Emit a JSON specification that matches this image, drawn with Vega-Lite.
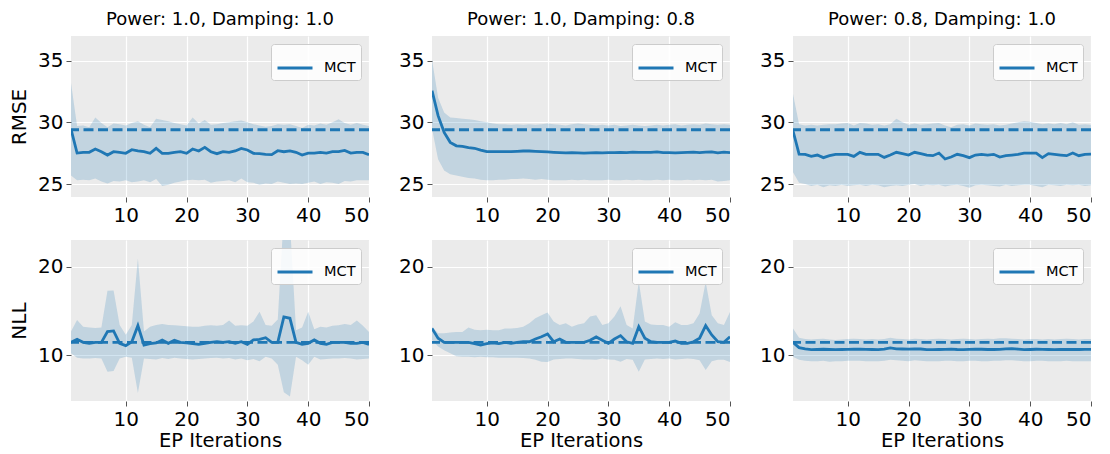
{
"$schema": "https://vega.github.io/schema/vega-lite/v6.json",
"padding": {"left": 9, "top": 11, "right": 5, "bottom": 2},
"background": "white",
"datasets": {
"base": [{"m":"RMSE","v":29.4},{"m":"NLL","v":11.43}],
"r1": [
{"i":1,"y":29.45,"hi":33.2,"lo":25.7},{"i":2,"y":27.51,"hi":29.7,"lo":25.3},{"i":3,"y":27.57,"hi":29.75,"lo":25.35},{"i":4,"y":27.57,"hi":29.6,"lo":25.3},{"i":5,"y":27.84,"hi":30.4,"lo":25.45},
{"i":6,"y":27.62,"hi":29.95,"lo":25.2},{"i":7,"y":27.35,"hi":29.6,"lo":25.05},{"i":8,"y":27.62,"hi":29.9,"lo":25.25},{"i":9,"y":27.57,"hi":29.85,"lo":25.2},{"i":10,"y":27.49,"hi":29.75,"lo":25.3},
{"i":11,"y":27.78,"hi":29.95,"lo":25.15},{"i":12,"y":27.68,"hi":30.1,"lo":25.2},{"i":13,"y":27.62,"hi":29.8,"lo":25.3},{"i":14,"y":27.49,"hi":29.6,"lo":25.15},{"i":15,"y":27.89,"hi":30.3,"lo":25.4},
{"i":16,"y":27.49,"hi":30.2,"lo":24.85},{"i":17,"y":27.49,"hi":30.1,"lo":24.95},{"i":18,"y":27.57,"hi":29.95,"lo":25.1},{"i":19,"y":27.62,"hi":29.85,"lo":25.2},{"i":20,"y":27.49,"hi":29.75,"lo":25.3},
{"i":21,"y":27.84,"hi":30.4,"lo":25.35},{"i":22,"y":27.68,"hi":29.9,"lo":25.3},{"i":23,"y":27.97,"hi":30.2,"lo":25.35},{"i":24,"y":27.62,"hi":29.8,"lo":25.1},{"i":25,"y":27.46,"hi":29.85,"lo":25.2},
{"i":26,"y":27.62,"hi":29.95,"lo":25.25},{"i":27,"y":27.57,"hi":30.0,"lo":25.3},{"i":28,"y":27.68,"hi":30.1,"lo":25.15},{"i":29,"y":27.89,"hi":30.15,"lo":25.45},{"i":30,"y":27.76,"hi":30.0,"lo":25.15},
{"i":31,"y":27.49,"hi":29.85,"lo":25.1},{"i":32,"y":27.46,"hi":29.75,"lo":24.95},{"i":33,"y":27.41,"hi":29.65,"lo":25.05},{"i":34,"y":27.38,"hi":29.7,"lo":25.0},{"i":35,"y":27.7,"hi":29.85,"lo":25.2},
{"i":36,"y":27.62,"hi":29.8,"lo":25.1},{"i":37,"y":27.68,"hi":29.85,"lo":25.0},{"i":38,"y":27.57,"hi":29.7,"lo":25.05},{"i":39,"y":27.35,"hi":29.55,"lo":25.0},{"i":40,"y":27.51,"hi":29.8,"lo":25.1},
{"i":41,"y":27.51,"hi":29.75,"lo":25.2},{"i":42,"y":27.57,"hi":29.9,"lo":25.0},{"i":43,"y":27.51,"hi":29.8,"lo":25.15},{"i":44,"y":27.62,"hi":30.0,"lo":25.1},{"i":45,"y":27.62,"hi":30.25,"lo":25.0},
{"i":46,"y":27.73,"hi":29.95,"lo":25.25},{"i":47,"y":27.51,"hi":29.8,"lo":25.2},{"i":48,"y":27.57,"hi":29.95,"lo":25.3},{"i":49,"y":27.57,"hi":29.8,"lo":25.3},{"i":50,"y":27.38,"hi":29.7,"lo":25.3}
],
"r2": [
{"i":1,"y":32.57,"hi":35.1,"lo":29.5},{"i":2,"y":30.54,"hi":32.0,"lo":27.0},{"i":3,"y":29.19,"hi":30.8,"lo":26.1},{"i":4,"y":28.38,"hi":30.4,"lo":25.8},{"i":5,"y":28.1,"hi":30.35,"lo":25.7},
{"i":6,"y":28.05,"hi":30.3,"lo":25.6},{"i":7,"y":27.95,"hi":30.25,"lo":25.5},{"i":8,"y":27.9,"hi":30.2,"lo":25.45},{"i":9,"y":27.75,"hi":30.1,"lo":25.35},{"i":10,"y":27.62,"hi":30.0,"lo":25.3},
{"i":11,"y":27.62,"hi":29.9,"lo":25.3},{"i":12,"y":27.62,"hi":29.85,"lo":25.35},{"i":13,"y":27.62,"hi":29.85,"lo":25.35},{"i":14,"y":27.62,"hi":29.8,"lo":25.4},{"i":15,"y":27.65,"hi":29.85,"lo":25.4},
{"i":16,"y":27.68,"hi":29.8,"lo":25.45},{"i":17,"y":27.68,"hi":29.85,"lo":25.4},{"i":18,"y":27.65,"hi":29.8,"lo":25.35},{"i":19,"y":27.62,"hi":29.85,"lo":25.4},{"i":20,"y":27.6,"hi":29.9,"lo":25.35},
{"i":21,"y":27.57,"hi":29.85,"lo":25.3},{"i":22,"y":27.54,"hi":29.8,"lo":25.3},{"i":23,"y":27.52,"hi":29.75,"lo":25.3},{"i":24,"y":27.55,"hi":29.85,"lo":25.35},{"i":25,"y":27.52,"hi":29.9,"lo":25.3},
{"i":26,"y":27.5,"hi":29.85,"lo":25.35},{"i":27,"y":27.52,"hi":29.8,"lo":25.3},{"i":28,"y":27.54,"hi":29.75,"lo":25.3},{"i":29,"y":27.52,"hi":29.8,"lo":25.3},{"i":30,"y":27.55,"hi":29.75,"lo":25.35},
{"i":31,"y":27.54,"hi":29.8,"lo":25.3},{"i":32,"y":27.56,"hi":29.7,"lo":25.3},{"i":33,"y":27.54,"hi":29.75,"lo":25.35},{"i":34,"y":27.58,"hi":29.8,"lo":25.3},{"i":35,"y":27.57,"hi":29.75,"lo":25.35},
{"i":36,"y":27.57,"hi":29.7,"lo":25.3},{"i":37,"y":27.56,"hi":29.75,"lo":25.3},{"i":38,"y":27.6,"hi":29.8,"lo":25.35},{"i":39,"y":27.54,"hi":29.75,"lo":25.3},{"i":40,"y":27.55,"hi":29.8,"lo":25.35},
{"i":41,"y":27.52,"hi":29.85,"lo":25.3},{"i":42,"y":27.55,"hi":29.75,"lo":25.3},{"i":43,"y":27.56,"hi":29.8,"lo":25.35},{"i":44,"y":27.58,"hi":29.85,"lo":25.3},{"i":45,"y":27.55,"hi":29.8,"lo":25.35},
{"i":46,"y":27.58,"hi":29.9,"lo":25.3},{"i":47,"y":27.6,"hi":29.85,"lo":25.35},{"i":48,"y":27.52,"hi":29.8,"lo":25.2},{"i":49,"y":27.58,"hi":29.85,"lo":25.25},{"i":50,"y":27.55,"hi":29.8,"lo":25.3}
],
"r3": [
{"i":1,"y":29.32,"hi":32.3,"lo":25.95},{"i":2,"y":27.43,"hi":29.85,"lo":25.1},{"i":3,"y":27.41,"hi":29.75,"lo":25.0},{"i":4,"y":27.24,"hi":29.8,"lo":24.85},{"i":5,"y":27.35,"hi":29.75,"lo":24.95},
{"i":6,"y":27.14,"hi":29.8,"lo":24.75},{"i":7,"y":27.3,"hi":29.85,"lo":24.9},{"i":8,"y":27.41,"hi":29.85,"lo":24.85},{"i":9,"y":27.41,"hi":29.9,"lo":24.95},{"i":10,"y":27.41,"hi":29.95,"lo":24.85},
{"i":11,"y":27.24,"hi":29.75,"lo":24.9},{"i":12,"y":27.57,"hi":29.95,"lo":24.95},{"i":13,"y":27.41,"hi":29.9,"lo":24.85},{"i":14,"y":27.41,"hi":29.8,"lo":24.95},{"i":15,"y":27.41,"hi":29.85,"lo":24.9},
{"i":16,"y":27.16,"hi":29.75,"lo":24.75},{"i":17,"y":27.35,"hi":29.85,"lo":24.85},{"i":18,"y":27.57,"hi":30.3,"lo":24.9},{"i":19,"y":27.46,"hi":30.0,"lo":24.85},{"i":20,"y":27.35,"hi":29.8,"lo":24.95},
{"i":21,"y":27.57,"hi":29.9,"lo":25.0},{"i":22,"y":27.46,"hi":29.8,"lo":24.85},{"i":23,"y":27.35,"hi":29.85,"lo":24.95},{"i":24,"y":27.3,"hi":29.9,"lo":24.9},{"i":25,"y":27.51,"hi":29.95,"lo":24.95},
{"i":26,"y":27.03,"hi":29.75,"lo":24.8},{"i":27,"y":27.19,"hi":29.6,"lo":24.9},{"i":28,"y":27.41,"hi":29.8,"lo":24.95},{"i":29,"y":27.3,"hi":29.85,"lo":24.85},{"i":30,"y":27.14,"hi":29.75,"lo":24.7},
{"i":31,"y":27.35,"hi":29.9,"lo":24.9},{"i":32,"y":27.41,"hi":29.85,"lo":24.95},{"i":33,"y":27.35,"hi":29.8,"lo":24.9},{"i":34,"y":27.41,"hi":29.85,"lo":24.85},{"i":35,"y":27.19,"hi":29.75,"lo":24.8},
{"i":36,"y":27.3,"hi":29.8,"lo":24.95},{"i":37,"y":27.35,"hi":29.9,"lo":24.85},{"i":38,"y":27.41,"hi":30.0,"lo":24.9},{"i":39,"y":27.51,"hi":30.1,"lo":24.95},{"i":40,"y":27.51,"hi":30.05,"lo":24.95},
{"i":41,"y":27.51,"hi":29.95,"lo":24.85},{"i":42,"y":27.14,"hi":29.85,"lo":24.75},{"i":43,"y":27.46,"hi":29.9,"lo":24.95},{"i":44,"y":27.41,"hi":29.85,"lo":24.9},{"i":45,"y":27.35,"hi":29.95,"lo":24.85},
{"i":46,"y":27.3,"hi":29.85,"lo":24.95},{"i":47,"y":27.51,"hi":30.0,"lo":24.9},{"i":48,"y":27.3,"hi":29.8,"lo":24.95},{"i":49,"y":27.41,"hi":29.85,"lo":24.85},{"i":50,"y":27.43,"hi":29.8,"lo":24.9}
],
"n1": [
{"i":1,"y":11.43,"hi":12.65,"lo":10.2},{"i":2,"y":11.77,"hi":13.95,"lo":9.7},{"i":3,"y":11.43,"hi":13.2,"lo":9.6},{"i":4,"y":11.32,"hi":13.1,"lo":9.6},{"i":5,"y":11.43,"hi":13.05,"lo":9.65},
{"i":6,"y":11.43,"hi":13.1,"lo":9.6},{"i":7,"y":12.64,"hi":17.25,"lo":8.1},{"i":8,"y":12.72,"hi":17.3,"lo":8.2},{"i":9,"y":11.32,"hi":13.4,"lo":9.6},{"i":10,"y":11.06,"hi":12.3,"lo":9.8},
{"i":11,"y":11.5,"hi":13.4,"lo":9.7},{"i":12,"y":13.32,"hi":20.9,"lo":5.7},{"i":13,"y":11.13,"hi":12.65,"lo":9.6},{"i":14,"y":11.28,"hi":13.2,"lo":9.55},{"i":15,"y":11.36,"hi":13.4,"lo":9.5},
{"i":16,"y":11.7,"hi":13.5,"lo":9.65},{"i":17,"y":11.32,"hi":13.4,"lo":9.55},{"i":18,"y":11.66,"hi":13.35,"lo":9.7},{"i":19,"y":11.43,"hi":13.3,"lo":9.6},{"i":20,"y":11.36,"hi":13.25,"lo":9.55},
{"i":21,"y":11.28,"hi":13.2,"lo":9.5},{"i":22,"y":11.2,"hi":13.2,"lo":9.55},{"i":23,"y":11.32,"hi":13.3,"lo":9.6},{"i":24,"y":11.43,"hi":13.35,"lo":9.65},{"i":25,"y":11.5,"hi":13.3,"lo":9.7},
{"i":26,"y":11.43,"hi":13.4,"lo":9.6},{"i":27,"y":11.5,"hi":13.9,"lo":9.65},{"i":28,"y":11.32,"hi":13.3,"lo":9.5},{"i":29,"y":11.5,"hi":13.35,"lo":9.6},{"i":30,"y":11.2,"hi":13.3,"lo":9.4},
{"i":31,"y":11.7,"hi":13.8,"lo":9.55},{"i":32,"y":11.77,"hi":14.9,"lo":9.3},{"i":33,"y":11.96,"hi":13.4,"lo":9.8},{"i":34,"y":11.43,"hi":13.3,"lo":9.6},{"i":35,"y":11.43,"hi":14.0,"lo":8.9},
{"i":36,"y":14.3,"hi":26.0,"lo":5.8},{"i":37,"y":14.15,"hi":25.0,"lo":5.3},{"i":38,"y":11.43,"hi":12.8,"lo":9.8},{"i":39,"y":11.2,"hi":13.1,"lo":9.4},{"i":40,"y":11.32,"hi":14.9,"lo":8.9},
{"i":41,"y":11.7,"hi":12.9,"lo":9.8},{"i":42,"y":11.32,"hi":13.2,"lo":9.5},{"i":43,"y":11.2,"hi":13.1,"lo":9.55},{"i":44,"y":11.43,"hi":13.3,"lo":9.6},{"i":45,"y":11.43,"hi":13.35,"lo":9.6},
{"i":46,"y":11.43,"hi":13.5,"lo":9.65},{"i":47,"y":11.32,"hi":13.4,"lo":9.6},{"i":48,"y":11.32,"hi":13.9,"lo":9.5},{"i":49,"y":11.43,"hi":13.3,"lo":9.55},{"i":50,"y":11.2,"hi":12.6,"lo":9.6}
],
"n2": [
{"i":1,"y":13.0,"hi":13.2,"lo":11.7},{"i":2,"y":11.9,"hi":12.45,"lo":10.95},{"i":3,"y":11.43,"hi":12.45,"lo":10.55},{"i":4,"y":11.43,"hi":12.55,"lo":10.2},{"i":5,"y":11.43,"hi":12.6,"lo":9.85},
{"i":6,"y":11.43,"hi":12.6,"lo":9.8},{"i":7,"y":11.43,"hi":13.1,"lo":9.8},{"i":8,"y":11.28,"hi":12.85,"lo":9.75},{"i":9,"y":11.13,"hi":12.8,"lo":9.8},{"i":10,"y":11.28,"hi":12.85,"lo":9.75},
{"i":11,"y":11.36,"hi":12.8,"lo":9.75},{"i":12,"y":11.28,"hi":12.8,"lo":9.7},{"i":13,"y":11.43,"hi":13.0,"lo":9.7},{"i":14,"y":11.32,"hi":13.0,"lo":9.7},{"i":15,"y":11.43,"hi":13.05,"lo":9.7},
{"i":16,"y":11.5,"hi":13.2,"lo":9.65},{"i":17,"y":11.5,"hi":13.6,"lo":9.6},{"i":18,"y":11.81,"hi":14.15,"lo":9.45},{"i":19,"y":12.07,"hi":14.5,"lo":9.25},{"i":20,"y":12.38,"hi":14.8,"lo":9.2},
{"i":21,"y":11.5,"hi":13.8,"lo":9.5},{"i":22,"y":11.81,"hi":13.4,"lo":9.55},{"i":23,"y":11.43,"hi":13.6,"lo":9.6},{"i":24,"y":11.43,"hi":13.2,"lo":9.6},{"i":25,"y":11.43,"hi":13.45,"lo":9.55},
{"i":26,"y":11.43,"hi":13.6,"lo":9.5},{"i":27,"y":11.66,"hi":14.35,"lo":9.5},{"i":28,"y":12.04,"hi":14.5,"lo":9.45},{"i":29,"y":11.66,"hi":13.4,"lo":9.6},{"i":30,"y":11.32,"hi":13.6,"lo":9.5},
{"i":31,"y":11.81,"hi":14.35,"lo":9.45},{"i":32,"y":12.19,"hi":15.5,"lo":9.25},{"i":33,"y":11.5,"hi":13.4,"lo":9.55},{"i":34,"y":11.32,"hi":13.0,"lo":9.45},{"i":35,"y":13.2,"hi":18.3,"lo":8.1},
{"i":36,"y":11.9,"hi":13.8,"lo":9.5},{"i":37,"y":11.5,"hi":13.45,"lo":9.55},{"i":38,"y":11.43,"hi":13.4,"lo":9.6},{"i":39,"y":11.43,"hi":13.4,"lo":9.55},{"i":40,"y":11.43,"hi":13.2,"lo":9.6},
{"i":41,"y":11.58,"hi":13.7,"lo":9.5},{"i":42,"y":11.32,"hi":13.4,"lo":9.55},{"i":43,"y":11.32,"hi":13.4,"lo":9.6},{"i":44,"y":11.5,"hi":13.6,"lo":9.55},{"i":45,"y":11.9,"hi":14.7,"lo":9.4},
{"i":46,"y":13.32,"hi":18.25,"lo":8.3},{"i":47,"y":12.26,"hi":14.5,"lo":9.3},{"i":48,"y":11.5,"hi":13.6,"lo":9.45},{"i":49,"y":11.43,"hi":13.4,"lo":9.45},{"i":50,"y":12.07,"hi":14.85,"lo":9.2}
],
"n3": [
{"i":1,"y":11.43,"hi":13.0,"lo":9.8},{"i":2,"y":10.83,"hi":11.95,"lo":9.45},{"i":3,"y":10.68,"hi":11.8,"lo":9.35},{"i":4,"y":10.6,"hi":11.75,"lo":9.3},{"i":5,"y":10.62,"hi":11.8,"lo":9.3},
{"i":6,"y":10.65,"hi":11.85,"lo":9.35},{"i":7,"y":10.62,"hi":11.75,"lo":9.25},{"i":8,"y":10.6,"hi":11.7,"lo":9.3},{"i":9,"y":10.62,"hi":11.75,"lo":9.3},{"i":10,"y":10.64,"hi":11.8,"lo":9.35},
{"i":11,"y":10.65,"hi":11.85,"lo":9.35},{"i":12,"y":10.66,"hi":11.8,"lo":9.35},{"i":13,"y":10.64,"hi":11.75,"lo":9.3},{"i":14,"y":10.62,"hi":11.8,"lo":9.3},{"i":15,"y":10.6,"hi":11.75,"lo":9.3},
{"i":16,"y":10.66,"hi":11.8,"lo":9.35},{"i":17,"y":10.8,"hi":11.95,"lo":9.45},{"i":18,"y":10.7,"hi":11.85,"lo":9.4},{"i":19,"y":10.68,"hi":11.8,"lo":9.35},{"i":20,"y":10.66,"hi":11.75,"lo":9.3},
{"i":21,"y":10.7,"hi":11.85,"lo":9.4},{"i":22,"y":10.68,"hi":11.8,"lo":9.35},{"i":23,"y":10.6,"hi":11.75,"lo":9.3},{"i":24,"y":10.6,"hi":11.8,"lo":9.3},{"i":25,"y":10.62,"hi":11.85,"lo":9.3},
{"i":26,"y":10.64,"hi":11.8,"lo":9.35},{"i":27,"y":10.66,"hi":11.75,"lo":9.35},{"i":28,"y":10.62,"hi":11.8,"lo":9.3},{"i":29,"y":10.6,"hi":11.85,"lo":9.3},{"i":30,"y":10.64,"hi":11.8,"lo":9.35},
{"i":31,"y":10.66,"hi":11.75,"lo":9.35},{"i":32,"y":10.65,"hi":11.8,"lo":9.3},{"i":33,"y":10.62,"hi":11.85,"lo":9.3},{"i":34,"y":10.62,"hi":11.8,"lo":9.35},{"i":35,"y":10.64,"hi":11.9,"lo":9.35},
{"i":36,"y":10.7,"hi":11.9,"lo":9.4},{"i":37,"y":10.72,"hi":11.85,"lo":9.4},{"i":38,"y":10.66,"hi":11.8,"lo":9.35},{"i":39,"y":10.6,"hi":11.75,"lo":9.3},{"i":40,"y":10.62,"hi":11.8,"lo":9.3},
{"i":41,"y":10.65,"hi":11.8,"lo":9.35},{"i":42,"y":10.64,"hi":11.75,"lo":9.35},{"i":43,"y":10.62,"hi":11.8,"lo":9.3},{"i":44,"y":10.6,"hi":11.75,"lo":9.3},{"i":45,"y":10.62,"hi":11.8,"lo":9.3},
{"i":46,"y":10.64,"hi":11.85,"lo":9.35},{"i":47,"y":10.62,"hi":11.8,"lo":9.3},{"i":48,"y":10.62,"hi":11.75,"lo":9.3},{"i":49,"y":10.64,"hi":11.8,"lo":9.3},{"i":50,"y":10.64,"hi":11.8,"lo":9.3}
]
},
"spacing": 15,
"resolve": {"scale": {"x": "independent", "y": "independent", "color": "independent"}, "legend": {"color": "independent"}, "axis": {"x": "independent", "y": "independent"}},
"vconcat": [
{
"bounds": "flush",
"spacing": 63,
"resolve": {"scale": {"x": "independent", "y": "independent", "color": "independent"}, "legend": {"color": "independent"}, "axis": {"x": "independent", "y": "independent"}},
"hconcat": [
{"width": 298, "height": 161, "title": "Power: 1.0, Damping: 1.0",
"layer": [
{"data": {"name": "r1"}, "mark": {"type": "area", "color": "#1f77b4", "opacity": 0.2, "clip": true},
 "encoding": {"x": {"field": "i", "type": "quantitative", "scale": {"domain": [1, 50], "nice": false, "zero": false}, "axis": {"values": [10, 20, 30, 40, 50], "title": null}},
  "y": {"field": "lo", "type": "quantitative", "scale": {"domain": [23.95, 37.0], "nice": false, "zero": false}, "axis": {"values": [25, 30, 35], "title": "RMSE"}}, "y2": {"field": "hi"}}},
{"data": {"name": "base"}, "transform": [{"filter": "datum.m == 'RMSE'"}], "mark": {"type": "rule", "color": "#1f77b4", "strokeWidth": 2.8, "strokeDash": [10, 4.5]},
 "encoding": {"y": {"field": "v", "type": "quantitative"}}},
{"data": {"name": "r1"}, "mark": {"type": "line", "strokeWidth": 2.8, "clip": true},
 "encoding": {"x": {"field": "i", "type": "quantitative"}, "y": {"field": "y", "type": "quantitative"}, "color": {"datum": "MCT", "scale": {"range": ["#1f77b4"]}}}}
]},
{"width": 298, "height": 161, "title": "Power: 1.0, Damping: 0.8",
"layer": [
{"data": {"name": "r2"}, "mark": {"type": "area", "color": "#1f77b4", "opacity": 0.2, "clip": true},
 "encoding": {"x": {"field": "i", "type": "quantitative", "scale": {"domain": [1, 50], "nice": false, "zero": false}, "axis": {"values": [10, 20, 30, 40, 50], "title": null}},
  "y": {"field": "lo", "type": "quantitative", "scale": {"domain": [23.95, 37.0], "nice": false, "zero": false}, "axis": {"values": [25, 30, 35], "title": null}}, "y2": {"field": "hi"}}},
{"data": {"name": "base"}, "transform": [{"filter": "datum.m == 'RMSE'"}], "mark": {"type": "rule", "color": "#1f77b4", "strokeWidth": 2.8, "strokeDash": [10, 4.5]},
 "encoding": {"y": {"field": "v", "type": "quantitative"}}},
{"data": {"name": "r2"}, "mark": {"type": "line", "strokeWidth": 2.8, "clip": true},
 "encoding": {"x": {"field": "i", "type": "quantitative"}, "y": {"field": "y", "type": "quantitative"}, "color": {"datum": "MCT", "scale": {"range": ["#1f77b4"]}}}}
]},
{"width": 298, "height": 161, "title": "Power: 0.8, Damping: 1.0",
"layer": [
{"data": {"name": "r3"}, "mark": {"type": "area", "color": "#1f77b4", "opacity": 0.2, "clip": true},
 "encoding": {"x": {"field": "i", "type": "quantitative", "scale": {"domain": [1, 50], "nice": false, "zero": false}, "axis": {"values": [10, 20, 30, 40, 50], "title": null}},
  "y": {"field": "lo", "type": "quantitative", "scale": {"domain": [23.95, 37.0], "nice": false, "zero": false}, "axis": {"values": [25, 30, 35], "title": null}}, "y2": {"field": "hi"}}},
{"data": {"name": "base"}, "transform": [{"filter": "datum.m == 'RMSE'"}], "mark": {"type": "rule", "color": "#1f77b4", "strokeWidth": 2.8, "strokeDash": [10, 4.5]},
 "encoding": {"y": {"field": "v", "type": "quantitative"}}},
{"data": {"name": "r3"}, "mark": {"type": "line", "strokeWidth": 2.8, "clip": true},
 "encoding": {"x": {"field": "i", "type": "quantitative"}, "y": {"field": "y", "type": "quantitative"}, "color": {"datum": "MCT", "scale": {"range": ["#1f77b4"]}}}}
]}
]
},
{
"bounds": "flush",
"spacing": 63,
"resolve": {"scale": {"x": "independent", "y": "independent", "color": "independent"}, "legend": {"color": "independent"}, "axis": {"x": "independent", "y": "independent"}},
"hconcat": [
{"width": 298, "height": 161,
"layer": [
{"data": {"name": "n1"}, "mark": {"type": "area", "color": "#1f77b4", "opacity": 0.2, "clip": true},
 "encoding": {"x": {"field": "i", "type": "quantitative", "scale": {"domain": [1, 50], "nice": false, "zero": false}, "axis": {"values": [10, 20, 30, 40, 50], "title": "EP Iterations"}},
  "y": {"field": "lo", "type": "quantitative", "scale": {"domain": [4.8, 23.0], "nice": false, "zero": false}, "axis": {"values": [10, 20], "title": "NLL"}}, "y2": {"field": "hi"}}},
{"data": {"name": "base"}, "transform": [{"filter": "datum.m == 'NLL'"}], "mark": {"type": "rule", "color": "#1f77b4", "strokeWidth": 2.8, "strokeDash": [10, 4.5]},
 "encoding": {"y": {"field": "v", "type": "quantitative"}}},
{"data": {"name": "n1"}, "mark": {"type": "line", "strokeWidth": 2.8, "clip": true},
 "encoding": {"x": {"field": "i", "type": "quantitative"}, "y": {"field": "y", "type": "quantitative"}, "color": {"datum": "MCT", "scale": {"range": ["#1f77b4"]}}}}
]},
{"width": 298, "height": 161,
"layer": [
{"data": {"name": "n2"}, "mark": {"type": "area", "color": "#1f77b4", "opacity": 0.2, "clip": true},
 "encoding": {"x": {"field": "i", "type": "quantitative", "scale": {"domain": [1, 50], "nice": false, "zero": false}, "axis": {"values": [10, 20, 30, 40, 50], "title": "EP Iterations"}},
  "y": {"field": "lo", "type": "quantitative", "scale": {"domain": [4.8, 23.0], "nice": false, "zero": false}, "axis": {"values": [10, 20], "title": null}}, "y2": {"field": "hi"}}},
{"data": {"name": "base"}, "transform": [{"filter": "datum.m == 'NLL'"}], "mark": {"type": "rule", "color": "#1f77b4", "strokeWidth": 2.8, "strokeDash": [10, 4.5]},
 "encoding": {"y": {"field": "v", "type": "quantitative"}}},
{"data": {"name": "n2"}, "mark": {"type": "line", "strokeWidth": 2.8, "clip": true},
 "encoding": {"x": {"field": "i", "type": "quantitative"}, "y": {"field": "y", "type": "quantitative"}, "color": {"datum": "MCT", "scale": {"range": ["#1f77b4"]}}}}
]},
{"width": 298, "height": 161,
"layer": [
{"data": {"name": "n3"}, "mark": {"type": "area", "color": "#1f77b4", "opacity": 0.2, "clip": true},
 "encoding": {"x": {"field": "i", "type": "quantitative", "scale": {"domain": [1, 50], "nice": false, "zero": false}, "axis": {"values": [10, 20, 30, 40, 50], "title": "EP Iterations"}},
  "y": {"field": "lo", "type": "quantitative", "scale": {"domain": [4.8, 23.0], "nice": false, "zero": false}, "axis": {"values": [10, 20], "title": null}}, "y2": {"field": "hi"}}},
{"data": {"name": "base"}, "transform": [{"filter": "datum.m == 'NLL'"}], "mark": {"type": "rule", "color": "#1f77b4", "strokeWidth": 2.8, "strokeDash": [10, 4.5]},
 "encoding": {"y": {"field": "v", "type": "quantitative"}}},
{"data": {"name": "n3"}, "mark": {"type": "line", "strokeWidth": 2.8, "clip": true},
 "encoding": {"x": {"field": "i", "type": "quantitative"}, "y": {"field": "y", "type": "quantitative"}, "color": {"datum": "MCT", "scale": {"range": ["#1f77b4"]}}}}
]}
]
}
],
"config": {
 "font": "DejaVu Sans",
 "view": {"fill": "#EBEBEB", "stroke": null},
 "axis": {"domain": false, "grid": true, "gridColor": "white", "gridWidth": 1.2, "gridOpacity": 1, "tickColor": "#555555", "tickSize": 5, "tickWidth": 1, "labelFontSize": 20, "labelColor": "black", "labelFont": "DejaVu Sans", "labelPadding": 3, "titleFont": "DejaVu Sans", "titleFontSize": 20, "titleFontWeight": "normal", "titleColor": "black"},
 "axisY": {"titlePadding": 8},
 "axisX": {"titlePadding": 2, "titleFontSize": 19.5},
 "legend": {"orient": "top-right", "offset": 8, "title": null, "fillColor": "rgba(255,255,255,0.85)", "strokeColor": "#cccccc", "cornerRadius": 3, "padding": 5, "symbolType": "stroke", "symbolSize": 1225, "symbolStrokeWidth": 2.8, "labelFontSize": 14.5, "labelFont": "DejaVu Sans", "labelColor": "black", "labelOffset": 10},
 "title": {"fontSize": 18, "fontWeight": "normal", "font": "DejaVu Sans", "color": "black", "offset": 7}
}
}
